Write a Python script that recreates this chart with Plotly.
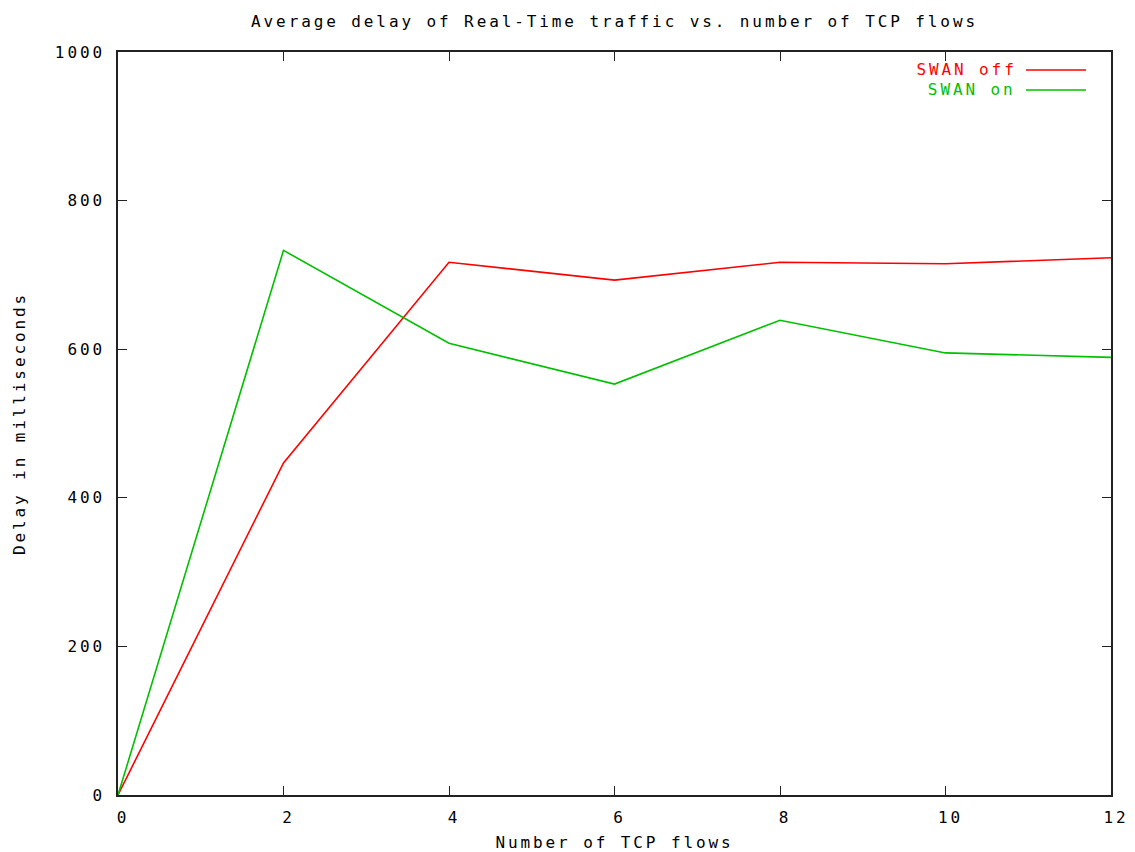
import plotly.graph_objects as go

# Number of TCP flows competing with the real-time traffic
tcp_flows = [0, 2, 4, 6, 8, 10, 12]

# Average real-time delay (ms)
delay_swan_off = [0, 447, 717, 693, 717, 715, 723]
delay_swan_on = [0, 733, 608, 553, 639, 595, 589]

series_names = ["SWAN off", "SWAN on"]
series_colors = ["#ff0000", "#00c000"]

x_ticks = [0, 2, 4, 6, 8, 10, 12]
y_ticks = [0, 200, 400, 600, 800, 1000]

FONT = "DejaVu Sans Mono"
AXIS_COLOR = "#222222"

fig = go.Figure()
for name, ys, color in zip(series_names, [delay_swan_off, delay_swan_on], series_colors):
    fig.add_trace(go.Scatter(
        x=tcp_flows, y=ys, mode="lines", name=name,
        line=dict(color=color, width=1.6), showlegend=False,
    ))

axis_common = dict(
    showgrid=False, zeroline=False, showline=True, linecolor=AXIS_COLOR,
    linewidth=1.6, mirror="allticks", ticks="inside", ticklen=9,
    tickwidth=1.4, tickcolor=AXIS_COLOR, automargin=False,
    tickfont=dict(family=FONT, size=16, color="#000000"),
)

fig.update_xaxes(
    range=[0, 12], tickvals=x_ticks, ticktext=[str(v) for v in x_ticks],
    ticklabelstandoff=7, ticklabelshift=5,
    title=dict(text="Number of TCP flows", font=dict(family=FONT, size=16, color="#000000"), standoff=27),
    **axis_common,
)
fig.update_yaxes(
    range=[0, 1000], tickvals=y_ticks, ticktext=[str(v) for v in y_ticks],
    ticklabelstandoff=8,
    title=dict(text="Delay in milliseconds", font=dict(family=FONT, size=16, color="#000000"), standoff=37),
    **axis_common,
)

# Legend in the top-right corner: coloured label followed by a line sample
legend_rows_y = [70, 90]
for name, color, ypx in zip(series_names, series_colors, legend_rows_y):
    yp = 1 - (ypx - 52) / (795 - 52)
    fig.add_annotation(
        xref="paper", yref="paper", x=(1007 - 118) / (1111 - 118), y=yp,
        xanchor="right", yanchor="middle", showarrow=False, text=name,
        font=dict(family=FONT, size=16, color=color),
    )
    fig.add_shape(
        type="line", xref="paper", yref="paper",
        x0=(1026 - 118) / (1111 - 118), x1=(1086 - 118) / (1111 - 118), y0=yp, y1=yp,
        line=dict(color=color, width=1.6),
    )

fig.update_layout(
    width=1135, height=852,
    margin=dict(l=118, r=24, t=52, b=57),
    paper_bgcolor="#ffffff", plot_bgcolor="#ffffff",
    title=dict(
        text="Average delay of Real-Time traffic vs. number of TCP flows",
        font=dict(family=FONT, size=16, color="#000000"),
        x=(118 + 1111) / 2 / 1135, xanchor="center", y=1 - 21 / 852, yanchor="middle",
    ),
)

spacing_js = """
document.querySelectorAll('.main-svg text').forEach(function(t){ t.style.letterSpacing = '2.9px'; });
"""

fig.write_html("out.html", post_script=spacing_js)
